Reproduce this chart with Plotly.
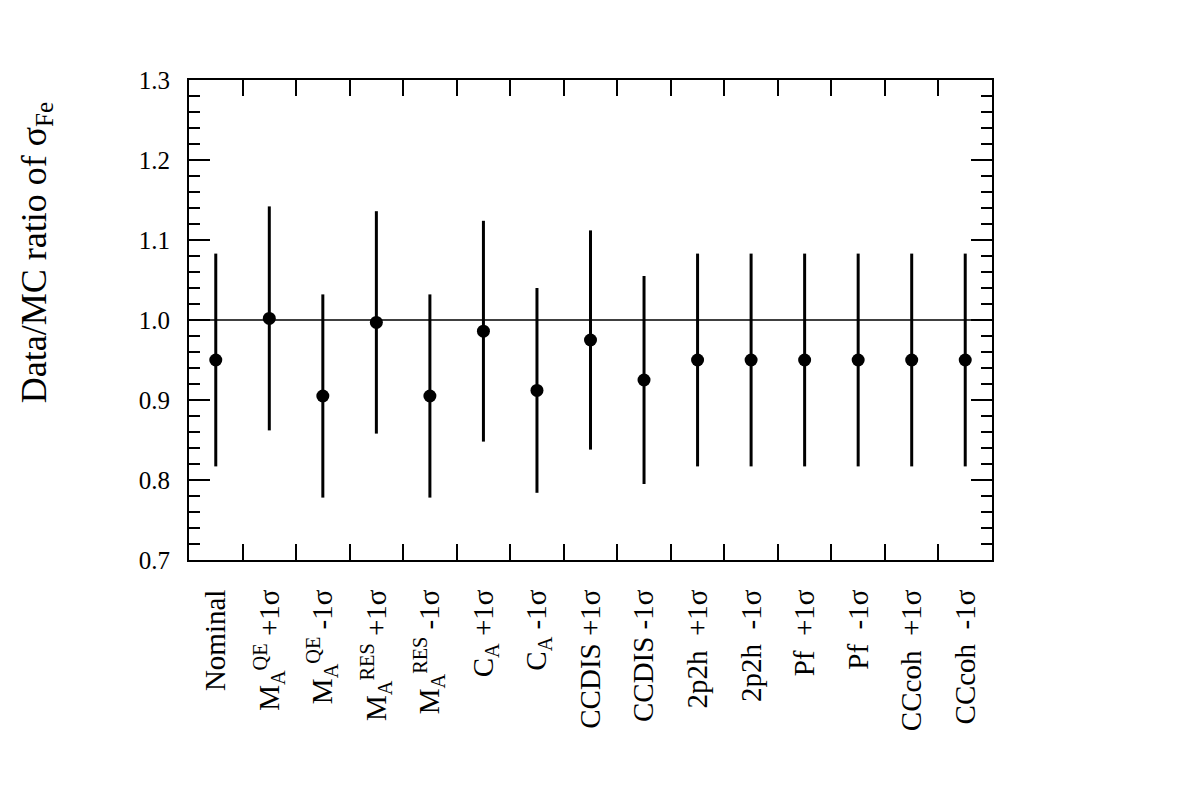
import plotly.graph_objects as go

NB = "\u00a0"
categories = [
    "Nominal",
    "M<sub>A</sub><sup>QE</sup> +1σ",
    "M<sub>A</sub><sup>QE</sup> -1σ",
    "M<sub>A</sub><sup>RES</sup> +1σ",
    "M<sub>A</sub><sup>RES</sup> -1σ",
    "C<sub>A</sub> +1σ",
    "C<sub>A</sub> -1σ",
    "CCDIS +1σ",
    "CCDIS -1σ",
    "2p2h" + NB + NB + "+1σ",
    "2p2h" + NB + NB + "-1σ",
    "Pf" + NB + NB + "+1σ",
    "Pf" + NB + NB + "-1σ",
    "CCcoh" + NB + NB + "+1σ",
    "CCcoh" + NB + NB + "-1σ",
]
ratio = [0.950, 1.002, 0.905, 0.997, 0.905, 0.986, 0.912, 0.975, 0.925,
         0.950, 0.950, 0.950, 0.950, 0.950, 0.950]
error = [0.133, 0.140, 0.127, 0.139, 0.127, 0.138, 0.128, 0.137, 0.130,
         0.133, 0.133, 0.133, 0.133, 0.133, 0.133]

FONT = "Liberation Serif"

fig = go.Figure()
fig.add_trace(go.Scatter(
    x=categories, y=ratio, mode="markers",
    marker=dict(color="black", size=13, symbol="circle"),
    error_y=dict(type="data", array=error, visible=True, color="black",
                 thickness=3, width=0),
    showlegend=False,
))
fig.add_hline(y=1.0, line=dict(color="black", width=1.5))

fig.update_layout(
    width=1182, height=803,
    margin=dict(l=189, r=190, t=80, b=243),
    paper_bgcolor="white", plot_bgcolor="white",
    font=dict(family=FONT, color="black"),
    xaxis=dict(
        type="category", range=[-0.5, 14.5],
        showgrid=False, zeroline=False,
        showline=True, linecolor="black", linewidth=2, mirror="ticks",
        ticks="inside", ticklen=16, tickwidth=1.5, tickcolor="black",
        tickson="boundaries", tickangle=-90,
        tickfont=dict(family=FONT, size=29, color="black"),
        ticklabelstandoff=16,
    ),
    yaxis=dict(
        range=[0.7, 1.3], dtick=0.1, tick0=0.7, tickformat=".1f",
        showgrid=False, zeroline=False,
        showline=True, linecolor="black", linewidth=2, mirror="ticks",
        ticks="inside", ticklen=21, tickwidth=1.5, tickcolor="black",
        tickfont=dict(family=FONT, size=25, color="black"),
        ticklabelstandoff=12,
        minor=dict(dtick=0.02, tick0=0.7, ticks="inside", ticklen=11,
                   tickwidth=1.5, tickcolor="black", showgrid=False),
    ),
)

fig.add_annotation(
    text="Data/MC ratio of σ<sub>Fe</sub>",
    xref="paper", yref="paper", x=-0.19, y=0.642,
    xanchor="center", yanchor="middle",
    textangle=-90, showarrow=False,
    font=dict(family=FONT, size=36, color="black"),
)

fig.write_html("out.html")
